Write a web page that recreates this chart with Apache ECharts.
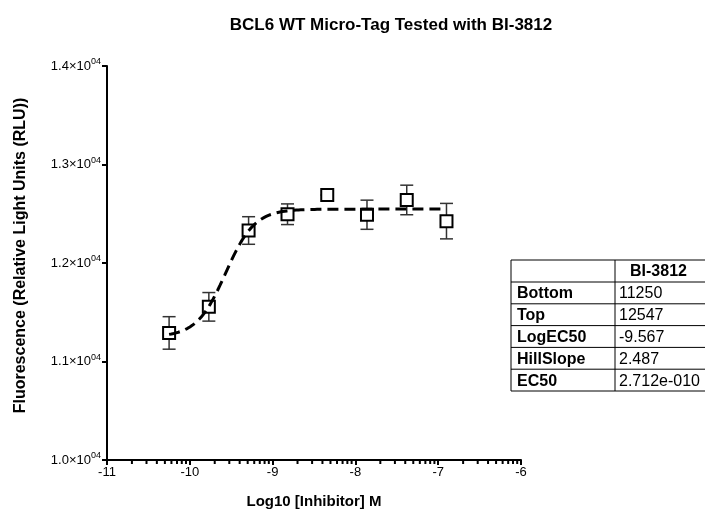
<!DOCTYPE html>
<html>
<head>
<meta charset="utf-8">
<script src="https://cdn.jsdelivr.net/npm/echarts@6/dist/echarts.min.js"></script>
<style>
  html, body { margin: 0; padding: 0; background: #fff; }
  #chart { width: 705px; height: 514px; }
</style>
</head>
<body>
<div id="chart"></div>
<script>
// measured points (log10 molar concentration, RLU, SEM)
const logConc = [-10.25, -9.77, -9.29, -8.82, -8.34, -7.86, -7.38, -6.90];
const rlu = [11290, 11555, 12330, 12495, 12690, 12490, 12640, 12425];
const sem = [165, 145, 140, 105, 0, 148, 150, 180];

// fit results shown in the table
const fitNames = ['Bottom', 'Top', 'LogEC50', 'HillSlope', 'EC50'];
const fitText = ['11250', '12547', '-9.567', '2.487', '2.712e-010'];
const fitBottom = 11250, fitTop = 12547, fitLogEC50 = -9.567, fitHill = 2.487;

const decades = [-11, -10, -9, -8, -7];

const curve = [];
for (let i = 0; i <= 120; i++) {
    const x = logConc[0] + (logConc[7] - logConc[0]) * i / 120;
    const y = fitBottom + (fitTop - fitBottom) / (1 + Math.pow(10, (fitLogEC50 - x) * fitHill));
    curve.push([x, y]);
}

const minorTicks = [];
decades.forEach(d => {
    for (let k = 2; k <= 9; k++) minorTicks.push([d + Math.log10(k)]);
});

const font = 'Liberation Sans, Arial, sans-serif';

// table graphic
const tblLeft = 511, tblTop = 260, col1 = 104, col2 = 93, headH = 22, rowH = 21.8;
const tbl = [];
const totalH = headH + rowH * fitNames.length;
tbl.push({ type: 'rect', shape: { x: tblLeft, y: tblTop, width: col1 + col2, height: totalH },
    style: { fill: '#fff', stroke: '#000', lineWidth: 1 } });
tbl.push({ type: 'line', shape: { x1: tblLeft + col1, y1: tblTop, x2: tblLeft + col1, y2: tblTop + totalH },
    style: { stroke: '#000', lineWidth: 1 } });
tbl.push({ type: 'text', style: { text: 'BI-3812', x: tblLeft + col1 + col2 / 2 - 3, y: tblTop + headH / 2 + 1,
    align: 'center', verticalAlign: 'middle', font: 'bold 16px ' + font, fill: '#000' } });
fitNames.forEach((name, i) => {
    const y0 = tblTop + headH + rowH * i;
    tbl.push({ type: 'line', shape: { x1: tblLeft, y1: y0, x2: tblLeft + col1 + col2, y2: y0 },
        style: { stroke: '#000', lineWidth: 1 } });
    tbl.push({ type: 'text', style: { text: name, x: tblLeft + 6, y: y0 + rowH / 2 + 1,
        verticalAlign: 'middle', font: 'bold 16px ' + font, fill: '#000' } });
    tbl.push({ type: 'text', style: { text: fitText[i], x: tblLeft + col1 + 4, y: y0 + rowH / 2 + 1,
        verticalAlign: 'middle', font: '16px ' + font, fill: '#000' } });
});

const chart = echarts.init(document.getElementById('chart'));
chart.setOption({
    animation: false,
    backgroundColor: '#fff',
    title: {
        text: 'BCL6 WT Micro-Tag Tested with BI-3812',
        left: 386, top: 12, textAlign: 'center',
        textStyle: { fontFamily: font, fontSize: 17, fontWeight: 'bold', color: '#000' }
    },
    grid: { left: 107, right: 184, top: 66, bottom: 51 },
    xAxis: {
        type: 'value', min: -11, max: -6, interval: 1,
        name: 'Log10 [Inhibitor] M', nameLocation: 'middle', nameGap: 34,
        nameTextStyle: { fontFamily: font, fontSize: 15, fontWeight: 'bold', color: '#000' },
        axisLine: { lineStyle: { color: '#000', width: 2 } },
        axisTick: { length: 5, lineStyle: { color: '#000', width: 2 } },
        axisLabel: { fontFamily: font, fontSize: 13, color: '#000', margin: 6 },
        splitLine: { show: false }
    },
    yAxis: {
        type: 'value', min: 10000, max: 14000, interval: 1000,
        name: 'Fluorescence (Relative Light Units (RLU))', nameLocation: 'middle', nameGap: 78,
        nameTextStyle: { fontFamily: font, fontSize: 16, fontWeight: 'bold', color: '#000', padding: [0, 0, 0, 15] },
        axisLine: { show: true, lineStyle: { color: '#000', width: 2 } },
        axisTick: { show: true, length: 5, lineStyle: { color: '#000', width: 2 } },
        axisLabel: {
            margin: 6,
            formatter: v => '{b|' + (v / 10000).toFixed(1) + '×10}{s|04}',
            rich: {
                b: { fontFamily: font, fontSize: 13, color: '#000' },
                s: { fontFamily: font, fontSize: 9, color: '#000', padding: [0, 0, 8, 0] }
            }
        },
        splitLine: { show: false }
    },
    series: [
        {
            type: 'custom', z: 1, silent: true,
            data: minorTicks,
            renderItem: (params, api) => {
                const p = api.coord([api.value(0), 10000]);
                return { type: 'line', shape: { x1: p[0], y1: p[1], x2: p[0], y2: p[1] + 4 },
                    style: { stroke: '#000', lineWidth: 2 } };
            }
        },
        {
            type: 'custom', z: 2, silent: true,
            data: logConc.map((x, i) => [x, rlu[i], sem[i]]),
            renderItem: (params, api) => {
                const x = api.value(0), y = api.value(1), e = api.value(2);
                const hi = api.coord([x, y + e]), lo = api.coord([x, y - e]);
                const w = 6.5, st = { stroke: '#333', lineWidth: 1.5 };
                return { type: 'group', children: [
                    { type: 'line', shape: { x1: hi[0], y1: hi[1], x2: lo[0], y2: lo[1] }, style: st },
                    { type: 'line', shape: { x1: hi[0] - w, y1: hi[1], x2: hi[0] + w, y2: hi[1] }, style: st },
                    { type: 'line', shape: { x1: lo[0] - w, y1: lo[1], x2: lo[0] + w, y2: lo[1] }, style: st }
                ] };
            }
        },
        {
            type: 'scatter', z: 3, silent: true,
            data: logConc.map((x, i) => [x, rlu[i]]),
            symbol: 'rect', symbolSize: 12,
            itemStyle: { color: '#fff', borderColor: '#000', borderWidth: 2, opacity: 1 }
        },
        {
            type: 'line', z: 4, silent: true,
            data: curve, showSymbol: false, smooth: false,
            lineStyle: { color: '#000', width: 3, type: [11, 6] }
        }
    ],
    graphic: tbl
});
</script>
</body>
</html>
